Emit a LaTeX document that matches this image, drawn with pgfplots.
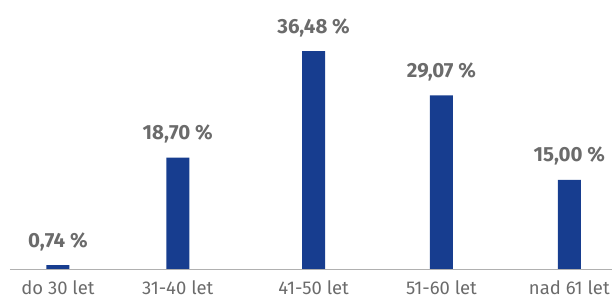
\documentclass[border=0pt]{standalone}
\usepackage{pgfplots}
\pgfplotsset{compat=1.18}
\usepackage{fontspec}
\setmainfont{Fira Sans}
\definecolor{barblue}{HTML}{173D8F}
\definecolor{txtgray}{HTML}{6B6B6B}
\definecolor{axgray}{HTML}{B0B0B0}
\begin{document}
\begin{tikzpicture}
\begin{axis}[
  scale only axis,
  width=603pt, height=270pt,
  xmin=10, xmax=613, ymin=0, ymax=45,
  axis lines=none,
  clip=false,
  xtick=\empty, ytick=\empty,
]
\addplot[ybar, bar width=23pt, fill=barblue, draw=none]
  coordinates {(58,0.74) (178,18.70) (314,36.48) (442,29.07) (570,15.00)};
\draw[axgray, line width=1pt] (axis cs:10,0) -- (axis cs:613,0);
\foreach \x/\v/\t in {58/0.74/{0,74 \%},178/18.70/{18,70 \%},314/36.48/{36,48 \%},442/29.07/{29,07 \%},570/15.00/{15,00 \%}}{
  \edef\temp{\noexpand\node[anchor=base, yshift=18pt, text=txtgray, font=\noexpand\fontsize{20.5}{23}\noexpand\selectfont\noexpand\bfseries] at (axis cs:\x,\v) {\t};}
  \temp
}
\foreach \x/\t in {58/do 30 let,178/31-40 let,314/41-50 let,442/51-60 let,570/nad 61 let}{
  \edef\temp{\noexpand\node[anchor=base, text=txtgray, font=\noexpand\fontsize{18.5}{21}\noexpand\selectfont] at (axis cs:\x,0) [yshift=-24.5pt] {\t};}
  \temp
}
\end{axis}
\useasboundingbox (-10pt,-25pt) rectangle (603pt,270pt);
\end{tikzpicture}
\end{document}
